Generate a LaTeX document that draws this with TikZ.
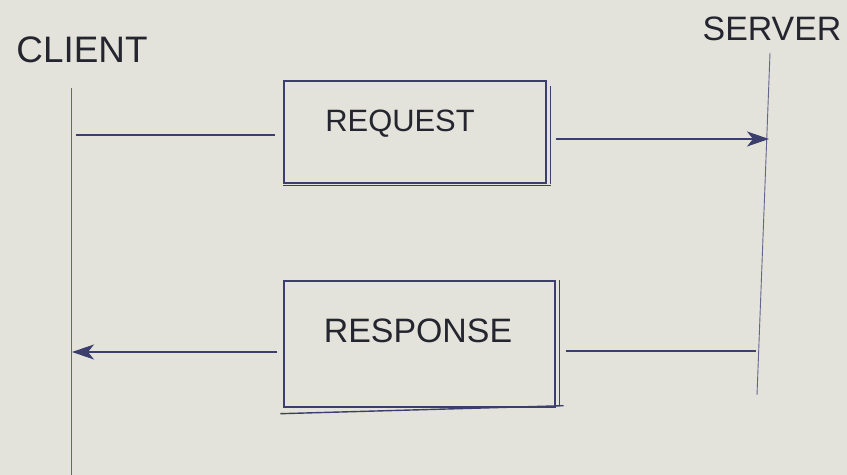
\documentclass[tikz,border=0pt]{standalone}
\usepackage{fontspec}
\setmainfont{Liberation Sans}
\usetikzlibrary{arrows.meta}
\definecolor{paper}{HTML}{E3E3DB}
\definecolor{ink}{HTML}{3C3E6E}
\definecolor{pen}{HTML}{24252F}
\tikzset{
  x=1bp, y=-1bp,
  lifeline/.style={draw=ink!80, line width=0.9bp},
  msgline/.style={draw=ink, line width=1.1bp},
  msgarrow/.style={msgline, -{Stealth[length=22bp, width=15bp, inset=6bp]}},
  msgbox/.style={draw=ink, line width=1.4bp, rectangle, inner sep=0pt},
  label/.style={text=pen, font=\fontsize{34}{36}\selectfont},
}
\begin{document}
\begin{tikzpicture}
\fill[paper] (0,0) rectangle (847,475);
\useasboundingbox (0,0) rectangle (847,475);
% labels
\node[label, font=\fontsize{37}{40}\selectfont, anchor=center] (client) at (82,50) {CLIENT};
\node[label, anchor=center] (server) at (772,29) {SERVER};
% lifelines
\coordinate (ctop) at (71,88);
\coordinate (cbot) at (71,475);
\coordinate (stop) at (770,53);
\coordinate (sbot) at (757,395);
\draw[lifeline] (ctop) -- (cbot);
\draw[lifeline] (stop) -- (sbot);
% request box
\node[msgbox, minimum width=262bp, minimum height=102bp] (req) at (415,132) {};
\node[label, font=\fontsize{31}{33}\selectfont] (reqt) at (400,124) {REQUEST};
\draw[msgbox] ([xshift=4bp,yshift=-6bp]req.north east) -- ([xshift=4bp]req.south east);
\draw[msgbox] ([yshift=-2bp]req.south west) -- ([xshift=4bp,yshift=-2bp]req.south east);
% response box
\node[msgbox, minimum width=271bp, minimum height=126bp] (resp) at (419.5,344) {};
\node[label] (respt) at (418,331) {RESPONSE};
\draw[msgbox] ([xshift=4bp]resp.north east) -- ([xshift=4bp,yshift=2bp]resp.south east);
\draw[msgbox] ([xshift=-3bp,yshift=-6bp]resp.south west) -- ([xshift=8bp,yshift=2bp]resp.south east);
% messages
\coordinate (c1) at (76,135);
\coordinate (s1) at (769,139);
\coordinate (c2) at (72,352);
\coordinate (s2) at (756,351);
\draw[msgline, shorten >=8bp] (c1) -- (c1 -| req.west);
\draw[msgarrow, shorten <=9bp] (req.east |- s1) -- (s1);
\draw[msgline, shorten <=10bp] (resp.east |- s2) -- (s2);
\draw[msgarrow, shorten <=6bp] (resp.west |- c2) -- (c2);
\end{tikzpicture}
\end{document}
